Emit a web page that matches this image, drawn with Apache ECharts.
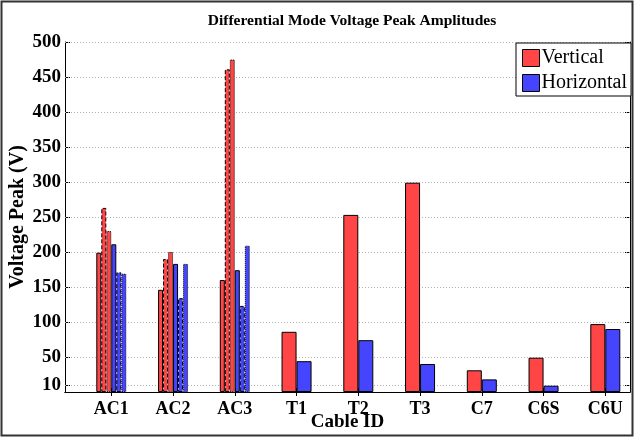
<!DOCTYPE html>
<html>
<head>
    <meta charset="utf-8">
    <title>Differential Mode Voltage Peak Amplitudes</title>
    <script src="https://cdn.jsdelivr.net/npm/echarts@6/dist/echarts.min.js"></script>
    <style>
        html, body { margin: 0; padding: 0; background: #fff; }
    </style>
</head>
<body>
    <div id="main" style="width: 635px;height:439px;"></div>
    <script type="text/javascript">
        // data
        var cables = ['AC1', 'AC2', 'AC3', 'T1', 'T2', 'T3', 'C7', 'C6S', 'C6U'];
        var yTicks = [10, 50, 100, 150, 200, 250, 300, 350, 400, 450, 500];

        // AC cables: three vertical and three horizontal runs each
        var acVert1 = [199, 146, 160];
        var acVert2 = [263, 190, 461];
        var acVert3 = [230, 200, 475];
        var acHor1 = [211, 183, 174];
        var acHor2 = [171, 134, 123];
        var acHor3 = [169, 183, 209];

        // remaining cables (T1 .. C6U)
        var restVert = [86, 253, 299, 31, 49, 97];
        var restHor = [44, 74, 40, 18, 9, 90];

        var RED = '#ff4545', BLUE = '#4545ff';
        var FONT = "'Liberation Serif', 'Times New Roman', serif";

        function acData(arr) {
            return arr.map(function (v, i) { return [i + 1, v]; });
        }
        function restData(arr) {
            return arr.map(function (v, i) { return [i + 4, v]; });
        }
        var xPos = cables.map(function (c, i) { return i + 1; });

        function bar(name, color, border, data, axis, width) {
            return {
                name: name,
                type: 'bar',
                xAxisIndex: axis,
                barWidth: width,
                barGap: '0%',
                data: data,
                z: 3,
                itemStyle: { color: color, borderColor: '#000', borderWidth: 1, borderType: border },
                emphasis: { disabled: true }
            };
        }

        var series = [
            bar('Vertical', RED, 'solid', acData(acVert1), 0, 5),
            bar('Vertical', RED, 'dashed', acData(acVert2), 0, 5),
            bar('Vertical', RED, 'dotted', acData(acVert3), 0, 5),
            bar('Horizontal', BLUE, 'solid', acData(acHor1), 0, 5),
            bar('Horizontal', BLUE, 'dashed', acData(acHor2), 0, 5),
            bar('Horizontal', BLUE, 'dotted', acData(acHor3), 0, 5),
            bar('Vertical', RED, 'solid', restData(restVert), 1, 15),
            bar('Horizontal', BLUE, 'solid', restData(restHor), 1, 15)
        ];
        // dotted grid lines at each y tick, drawn behind the bars
        series[0].markLine = {
            silent: true, symbol: 'none', z: 1,
            label: { show: false },
            lineStyle: { color: '#b0b0b0', type: [1, 2], width: 1 },
            emphasis: { disabled: true },
            data: yTicks.map(function (v) { return { yAxis: v }; })
        };

        var myChart = echarts.init(document.getElementById('main'));
        var option = {
            animation: false,
            backgroundColor: '#fff',
            title: {
                text: 'Differential Mode Voltage Peak Amplitudes',
                left: 347, top: 8, textAlign: 'center',
                textStyle: { fontFamily: FONT, fontSize: 15.5, fontWeight: 'bold', color: '#000' }
            },
            legend: {
                data: ['Vertical', 'Horizontal'],
                orient: 'vertical',
                left: 516, top: 43,
                padding: [5, 4, 3, 6],
                itemWidth: 17, itemHeight: 17, itemGap: 5,
                backgroundColor: '#fff',
                borderColor: '#000', borderWidth: 1,
                icon: 'rect',
                itemStyle: { borderColor: '#000', borderWidth: 1, borderType: 'solid' },
                textStyle: { fontFamily: FONT, fontSize: 20, lineHeight: 17, color: '#000', padding: [0, 0, 0, -3] }
            },
            grid: { left: 65, right: 5, top: 42, bottom: 47, outerBoundsMode: 'none' },
            xAxis: [{
                type: 'value', min: 0.25, max: 9.4, position: 'bottom',
                name: 'Cable ID', nameLocation: 'middle', nameGap: 21, nameMoveOverlap: false,
                nameTextStyle: { fontFamily: FONT, fontSize: 19, fontWeight: 'bold', color: '#000' },
                axisLine: { lineStyle: { color: '#000', width: 1 } },
                axisTick: { show: true, inside: true, length: 4, customValues: xPos, lineStyle: { color: '#000' } },
                axisLabel: {
                    customValues: xPos, margin: 8,
                    fontFamily: FONT, fontSize: 18, fontWeight: 'bold', color: '#000',
                    formatter: function (v) { return cables[Math.round(v) - 1]; }
                },
                splitLine: { show: false }
            }, {
                type: 'value', min: 0.25, max: 9.4, position: 'top',
                axisLine: { show: true, lineStyle: { color: '#000', width: 1 } },
                axisTick: { show: true, inside: true, length: 4, customValues: xPos, lineStyle: { color: '#000' } },
                axisLabel: { show: false },
                splitLine: { show: false }
            }],
            yAxis: [{
                type: 'value', min: 0, max: 500,
                name: 'Voltage Peak (V)', nameLocation: 'middle', nameGap: 37, nameMoveOverlap: false,
                nameTextStyle: { fontFamily: FONT, fontSize: 20, fontWeight: 'bold', color: '#000' },
                axisLine: { show: true, lineStyle: { color: '#000', width: 1 } },
                axisTick: { show: true, inside: true, length: 5, customValues: yTicks, lineStyle: { color: '#000' } },
                axisLabel: {
                    customValues: yTicks, margin: 4,
                    fontFamily: FONT, fontSize: 19, fontWeight: 'bold', color: '#000'
                },
                splitLine: { show: false }
            }, {
                type: 'value', min: 0, max: 500, position: 'right',
                axisLine: { show: true, lineStyle: { color: '#000', width: 1 } },
                axisTick: { show: true, inside: true, length: 5, customValues: yTicks, lineStyle: { color: '#000' } },
                axisLabel: { show: false },
                splitLine: { show: false }
            }],
            graphic: [{
                type: 'rect', silent: true, z: 100,
                shape: { x: 1.5, y: 1.5, width: 631, height: 434 },
                style: { fill: 'none', stroke: '#333', lineWidth: 2 }
            }],
            series: series
        };
        myChart.setOption(option);
    </script>
</body>
</html>
